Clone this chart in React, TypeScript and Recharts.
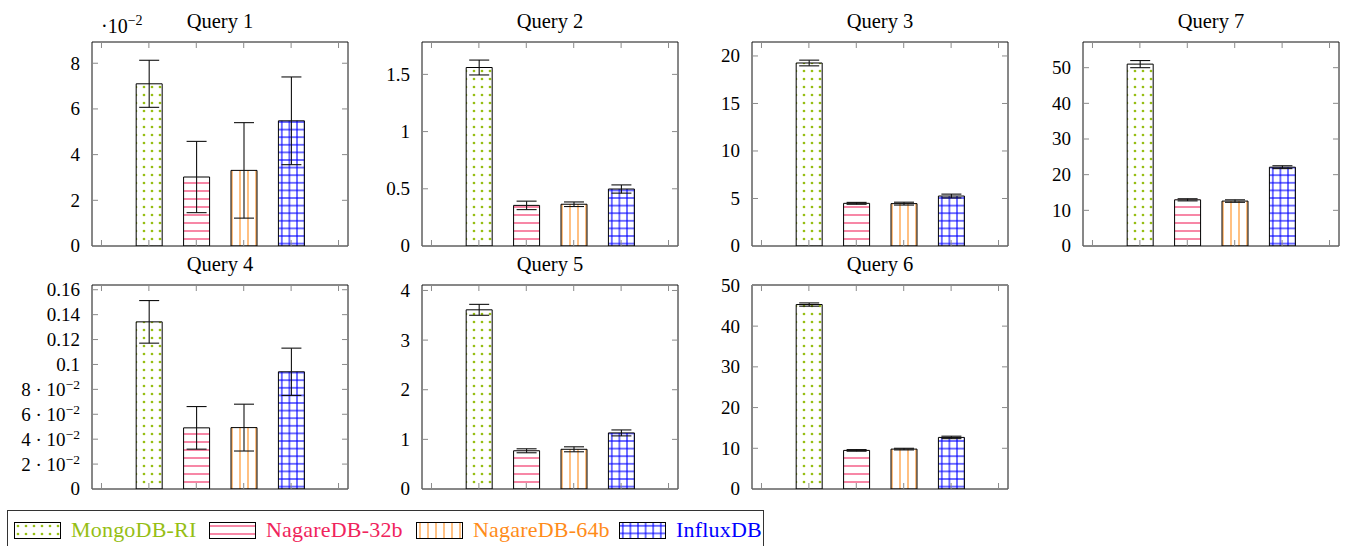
import React from "react";
import { BarChart, Bar, XAxis, YAxis, ErrorBar, Cell } from "recharts";

const databases = ["MongoDB-RI", "NagareDB-32b", "NagareDB-64b", "InfluxDB"];
const barPositions = [1, 2, 3, 4];
const xTicks = [0, 1, 2, 3, 4, 5];

// mean time and error (same unit as the axis) for each database, per query
const q1Mean = [0.071, 0.0302, 0.0331, 0.0548];
const q1Err = [0.0103, 0.0156, 0.0209, 0.0192];
const q2Mean = [1.56, 0.355, 0.365, 0.498];
const q2Err = [0.065, 0.037, 0.02, 0.036];
const q3Mean = [19.26, 4.49, 4.46, 5.26];
const q3Err = [0.3, 0.1, 0.15, 0.2];
const q7Mean = [51.0, 12.95, 12.6, 22.1];
const q7Err = [1.0, 0.3, 0.35, 0.4];
const q4Mean = [0.1342, 0.0491, 0.0493, 0.0941];
const q4Err = [0.0171, 0.0171, 0.0188, 0.019];
const q5Mean = [3.61, 0.77, 0.8, 1.13];
const q5Err = [0.11, 0.04, 0.05, 0.06];
const q6Mean = [45.3, 9.48, 9.8, 12.67];
const q6Err = [0.4, 0.2, 0.2, 0.3];

const q1Ticks = [0, 0.02, 0.04, 0.06, 0.08];
const q2Ticks = [0, 0.5, 1, 1.5];
const q3Ticks = [0, 5, 10, 15, 20];
const q7Ticks = [0, 10, 20, 30, 40, 50];
const q4Ticks = [0, 0.02, 0.04, 0.06, 0.08, 0.1, 0.12, 0.14, 0.16];
const q5Ticks = [0, 1, 2, 3, 4];
const q6Ticks = [0, 10, 20, 30, 40, 50];

const FONT = "'Liberation Serif', 'Times New Roman', serif";
const GREEN = "#96BE14";
const PINK = "#F0245C";
const ORANGE = "#FF8C1A";
const BLUE = "#0000FF";
const textColors = [GREEN, PINK, ORANGE, BLUE];
const patternIds = ["pat-dots", "pat-hlines", "pat-vlines", "pat-grid"];

// layout
const COL_LEFT = [92, 422, 752, 1083];
const ROW_TOP = [42, 285];
const PLOT_W = 256;
const PLOT_H = 204;
const AXIS_W = 80;
const PAD = 14;
const LEGEND_X = [6, 201, 408, 611];

type Fmt = (v: number) => [string, string?];

const plain: Fmt = (v) => [String(v)];
const hundredths: Fmt = (v) => [String(Math.round(v * 100))];
const sciSmall: Fmt = (v) =>
  v > 0 && v < 0.1 ? [`${Math.round(v * 100)} · 10`, "−2"] : [String(+v.toFixed(2))];

const panels = [
  { title: "Query 1", mean: q1Mean, err: q1Err, ticks: q1Ticks, yMax: 0.0893, fmt: hundredths, col: 0, row: 0 },
  { title: "Query 2", mean: q2Mean, err: q2Err, ticks: q2Ticks, yMax: 1.783, fmt: plain, col: 1, row: 0 },
  { title: "Query 3", mean: q3Mean, err: q3Err, ticks: q3Ticks, yMax: 21.47, fmt: plain, col: 2, row: 0 },
  { title: "Query 7", mean: q7Mean, err: q7Err, ticks: q7Ticks, yMax: 57.2, fmt: plain, col: 3, row: 0 },
  { title: "Query 4", mean: q4Mean, err: q4Err, ticks: q4Ticks, yMax: 0.1638, fmt: sciSmall, col: 0, row: 1 },
  { title: "Query 5", mean: q5Mean, err: q5Err, ticks: q5Ticks, yMax: 4.11, fmt: plain, col: 1, row: 1 },
  { title: "Query 6", mean: q6Mean, err: q6Err, ticks: q6Ticks, yMax: 50.1, fmt: plain, col: 2, row: 1 },
];

function PatternDefs() {
  return (
    <svg width={1} height={1} style={{ position: "absolute", left: 0, top: 0 }}>
      <defs>
        <pattern id="pat-dots" patternUnits="userSpaceOnUse" width={8} height={8}>
          <circle cx={4} cy={4} r={1.35} fill={GREEN} />
        </pattern>
        <pattern id="pat-hlines" patternUnits="userSpaceOnUse" width={8} height={8}>
          <line x1={0} y1={4} x2={8} y2={4} stroke={PINK} strokeWidth={1.1} />
        </pattern>
        <pattern id="pat-vlines" patternUnits="userSpaceOnUse" width={8} height={8}>
          <line x1={4} y1={0} x2={4} y2={8} stroke={ORANGE} strokeWidth={1.1} />
        </pattern>
        <pattern id="pat-grid" patternUnits="userSpaceOnUse" width={7.6} height={7.6}>
          <line x1={0} y1={3.8} x2={7.6} y2={3.8} stroke={BLUE} strokeWidth={1.1} />
          <line x1={3.8} y1={0} x2={3.8} y2={7.6} stroke={BLUE} strokeWidth={1.1} />
        </pattern>
      </defs>
    </svg>
  );
}

function YTick(props: any) {
  const { x, y, payload, fmt } = props;
  const [base, exp] = fmt(payload.value);
  return (
    <text x={x} y={y} dy="0.34em" textAnchor="end" fontFamily={FONT} fontSize={19} fill="#000">
      {base}
      {exp && (
        <tspan dy="-0.48em" fontSize={13.5}>
          {exp}
        </tspan>
      )}
    </text>
  );
}

const NoLabel = () => <g />;

function Panel({ title, mean, err, ticks, yMax, fmt, col, row }: any) {
  const rows = databases.map((db, i) => ({ db, x: barPositions[i], value: mean[i], err: err[i] }));
  const left = COL_LEFT[col];
  const top = ROW_TOP[row];
  const frame = { stroke: "#111", strokeWidth: 1 };
  const tickLine = { stroke: "#8a8a8a", strokeWidth: 1 };
  return (
    <>
      <div
        style={{
          position: "absolute",
          left,
          top: top - 31,
          width: PLOT_W,
          textAlign: "center",
          fontSize: 20.5,
          lineHeight: "20px",
        }}
      >
        {title}
      </div>
      <div style={{ position: "absolute", left: left - AXIS_W, top: top - PAD - 1 }}>
        <BarChart
          width={AXIS_W + PLOT_W + 1 + PAD}
          height={PAD + 1 + PLOT_H + 1 + PAD}
          data={rows}
          margin={{ top: PAD, right: PAD, bottom: PAD, left: 0 }}
        >
          <XAxis
            xAxisId="b"
            type="number"
            dataKey="x"
            domain={[-0.2, 5.2]}
            ticks={xTicks}
            interval={0}
            allowDataOverflow
            tick={NoLabel}
            tickSize={-6}
            height={1}
            axisLine={frame}
            tickLine={tickLine}
          />
          <XAxis
            xAxisId="t"
            orientation="top"
            type="number"
            dataKey="x"
            domain={[-0.2, 5.2]}
            ticks={xTicks}
            interval={0}
            allowDataOverflow
            tick={NoLabel}
            tickSize={-6}
            height={1}
            axisLine={frame}
            tickLine={tickLine}
          />
          <YAxis
            yAxisId="l"
            type="number"
            domain={[0, yMax]}
            ticks={ticks}
            interval={0}
            allowDataOverflow
            width={AXIS_W}
            tickSize={-6}
            tickMargin={18}
            axisLine={frame}
            tickLine={tickLine}
            tick={(p: any) => <YTick {...p} fmt={fmt} />}
          />
          <YAxis
            yAxisId="r"
            orientation="right"
            type="number"
            domain={[0, yMax]}
            ticks={ticks}
            interval={0}
            allowDataOverflow
            width={1}
            tick={NoLabel}
            tickSize={-6}
            axisLine={frame}
            tickLine={tickLine}
          />
          <Bar
            xAxisId="b"
            yAxisId="l"
            dataKey="value"
            barSize={26}
            stroke="#000"
            strokeWidth={1}
            isAnimationActive={false}
          >
            {rows.map((r, i) => (
              <Cell key={r.db} fill={`url(#${patternIds[i]})`} />
            ))}
            <ErrorBar dataKey="err" width={10} stroke="#111" strokeWidth={1.1} direction="y" />
          </Bar>
        </BarChart>
      </div>
    </>
  );
}

function Legend() {
  return (
    <div
      style={{
        position: "absolute",
        left: 7,
        top: 510,
        width: 757,
        height: 46,
        border: "1px solid #333",
        boxSizing: "border-box",
      }}
    >
      {databases.map((name, i) => (
        <div
          key={name}
          style={{ position: "absolute", left: LEGEND_X[i], top: 8, display: "flex", alignItems: "center" }}
        >
          <svg width={47} height={17}>
            <rect x={0.5} y={0.5} width={46} height={16} fill={`url(#${patternIds[i]})`} stroke="#000" />
          </svg>
          <span
            style={{
              marginLeft: 10,
              color: textColors[i],
              fontSize: 22,
              letterSpacing: 0.2,
              lineHeight: "22px",
            }}
          >
            {name}
          </span>
        </div>
      ))}
    </div>
  );
}

export default function App() {
  return (
    <div
      style={{
        position: "absolute",
        left: 0,
        top: 0,
        width: 1346,
        height: 546,
        background: "#fff",
        overflow: "hidden",
        fontFamily: FONT,
        color: "#000",
      }}
    >
      <PatternDefs />
      {panels.map((p) => (
        <Panel key={p.title} {...p} />
      ))}
      <svg width={80} height={30} style={{ position: "absolute", left: 96, top: 10 }}>
        <text x={5} y={23} fontFamily={FONT} fontSize={20} fill="#000">
          ·10
          <tspan dy={-8} fontSize={14}>
            −2
          </tspan>
        </text>
      </svg>
      <Legend />
    </div>
  );
}
